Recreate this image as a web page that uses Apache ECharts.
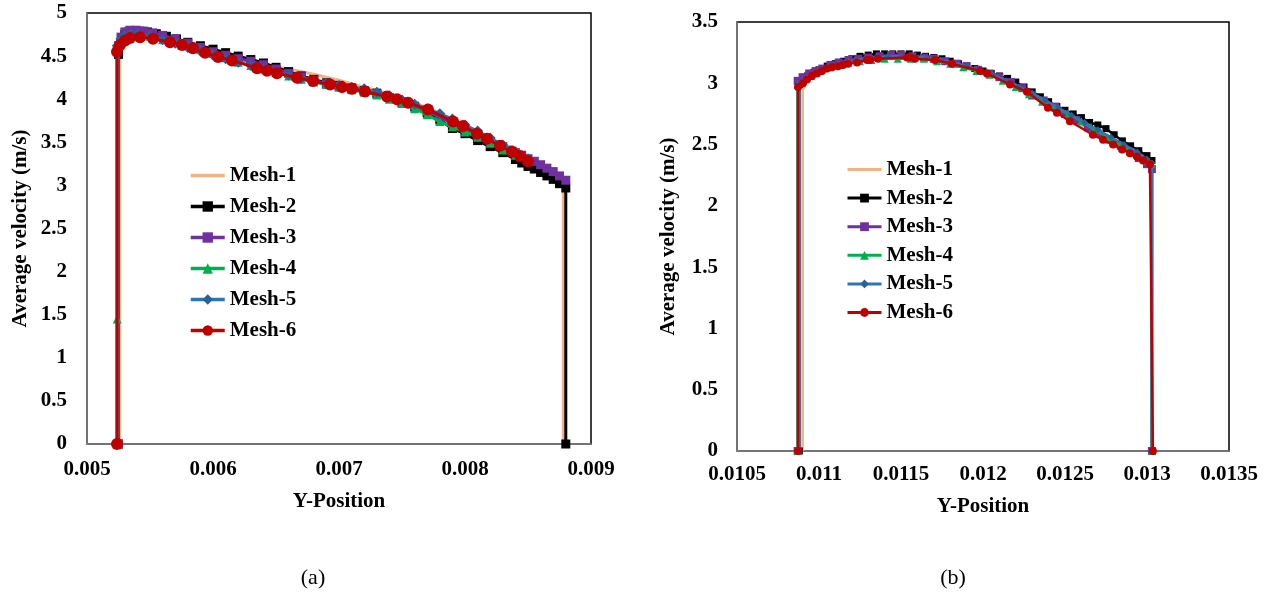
<!DOCTYPE html>
<html>
<head>
<meta charset="utf-8">
<title>Average velocity</title>
<script src="https://cdn.jsdelivr.net/npm/echarts@6/dist/echarts.min.js"></script>
<style>
  body { margin: 0; background: #fff; }
  #chart { width: 1274px; height: 599px; }
</style>
</head>
<body>
<div id="chart"></div>
<script>
// series names
var meshNames = ['Mesh-1', 'Mesh-2', 'Mesh-3', 'Mesh-4', 'Mesh-5', 'Mesh-6']

// tick settings
var leftXTicks = [0.005, 0.009, 0.001]
var leftYTicks = [0, 5, 0.5]
var rightXTicks = [0.0105, 0.0135, 0.0005]
var rightYTicks = [0, 3.5, 0.5]

// (a) left panel, [y-position, velocity]
var leftMesh1 = [[0.00526, 0], [0.00526, 4.6], [0.0053, 4.72], [0.00536, 4.76], [0.00545, 4.75], [0.0056, 4.71], [0.0058, 4.63], [0.006, 4.55], [0.0062, 4.47], [0.0064, 4.40], [0.0066, 4.35], [0.0068, 4.29], [0.007, 4.22], [0.0072, 4.14], [0.0074, 4.06], [0.0076, 3.96], [0.0078, 3.84], [0.008, 3.70], [0.0082, 3.55], [0.0084, 3.38], [0.0086, 3.20], [0.00875, 3.04], [0.00878, 3.0], [0.00878, 0]]
var leftMesh2 = [[0.00525, 0], [0.00525, 4.52], [0.00527, 4.66], [0.0053, 4.75], [0.00533, 4.78], [0.00537, 4.79], [0.00542, 4.79], [0.00548, 4.78], [0.00555, 4.76], [0.00563, 4.73], [0.00571, 4.70], [0.0058, 4.66], [0.0059, 4.62], [0.006, 4.58], [0.0061, 4.54], [0.0062, 4.50], [0.0063, 4.46], [0.0064, 4.42], [0.0065, 4.37], [0.0066, 4.32], [0.0067, 4.27], [0.0068, 4.23], [0.0069, 4.19], [0.007, 4.16], [0.0071, 4.13], [0.0072, 4.10], [0.0073, 4.07], [0.0074, 4.02], [0.0075, 3.96], [0.0076, 3.91], [0.0077, 3.84], [0.0078, 3.76], [0.0079, 3.66], [0.008, 3.60], [0.0081, 3.52], [0.0082, 3.45], [0.0083, 3.38], [0.0084, 3.30], [0.00845, 3.26], [0.0085, 3.22], [0.00855, 3.19], [0.0086, 3.15], [0.00865, 3.11], [0.0087, 3.07], [0.00875, 3.02], [0.0088, 2.97], [0.0088, 0]]
var leftMesh3 = [[0.00525, 0], [0.00525, 4.62], [0.00527, 4.72], [0.0053, 4.78], [0.00534, 4.80], [0.00539, 4.80], [0.00545, 4.79], [0.00552, 4.77], [0.0056, 4.74], [0.0057, 4.70], [0.0058, 4.65], [0.0059, 4.60], [0.006, 4.55], [0.0061, 4.51], [0.0062, 4.47], [0.0063, 4.44], [0.0064, 4.40], [0.0065, 4.35], [0.0066, 4.30], [0.0067, 4.26], [0.0068, 4.22], [0.0069, 4.18], [0.007, 4.15], [0.0071, 4.12], [0.0072, 4.09], [0.0073, 4.06], [0.0074, 4.02], [0.0075, 3.97], [0.0076, 3.92], [0.0077, 3.86], [0.0078, 3.79], [0.0079, 3.72], [0.008, 3.65], [0.0081, 3.58], [0.0082, 3.51], [0.0083, 3.45], [0.00835, 3.41], [0.0084, 3.38], [0.00845, 3.35], [0.0085, 3.31], [0.00855, 3.28], [0.0086, 3.24], [0.00865, 3.20], [0.0087, 3.16], [0.00875, 3.11], [0.0088, 3.06]]
var leftMesh4 = [[0.00524, 0], [0.00524, 1.45], [0.00524, 4.6], [0.00527, 4.68], [0.0053, 4.73], [0.00535, 4.76], [0.0054, 4.76], [0.0055, 4.73], [0.0056, 4.69], [0.0057, 4.66], [0.0058, 4.62], [0.0059, 4.58], [0.006, 4.53], [0.0061, 4.48], [0.0062, 4.43], [0.0063, 4.39], [0.0064, 4.35], [0.0065, 4.31], [0.0066, 4.27], [0.0067, 4.23], [0.0068, 4.20], [0.0069, 4.17], [0.007, 4.14], [0.0071, 4.11], [0.0072, 4.08], [0.0073, 4.05], [0.0074, 4.00], [0.0075, 3.95], [0.0076, 3.89], [0.0077, 3.82], [0.0078, 3.74], [0.0079, 3.68], [0.008, 3.62], [0.0081, 3.56], [0.0082, 3.49], [0.0083, 3.41], [0.0084, 3.35]]
var leftMesh5 = [[0.00524, 0], [0.00524, 4.62], [0.00527, 4.70], [0.0053, 4.74], [0.00535, 4.76], [0.0054, 4.76], [0.0055, 4.73], [0.0056, 4.69], [0.0057, 4.65], [0.0058, 4.60], [0.0059, 4.56], [0.006, 4.51], [0.0061, 4.47], [0.0062, 4.43], [0.0063, 4.39], [0.0064, 4.35], [0.0065, 4.31], [0.0066, 4.28], [0.0067, 4.24], [0.0068, 4.21], [0.0069, 4.18], [0.007, 4.16], [0.0071, 4.14], [0.0072, 4.12], [0.0073, 4.08], [0.0074, 4.04], [0.0075, 3.99], [0.0076, 3.94], [0.0077, 3.89], [0.0078, 3.83], [0.0079, 3.77], [0.008, 3.70], [0.0081, 3.63], [0.0082, 3.55], [0.0083, 3.47], [0.0084, 3.39], [0.0085, 3.31]]
var leftMesh6 = [[0.005238, 0], [0.005238, 4.55], [0.005262, 4.63], [0.005302, 4.68], [0.005341, 4.71], [0.005421, 4.72], [0.005524, 4.70], [0.005659, 4.66], [0.005754, 4.63], [0.005841, 4.59], [0.005937, 4.54], [0.00604, 4.49], [0.006151, 4.45], [0.006349, 4.36], [0.006429, 4.33], [0.006508, 4.30], [0.006667, 4.25], [0.006794, 4.21], [0.006929, 4.17], [0.007024, 4.14], [0.007103, 4.12], [0.007206, 4.09], [0.007381, 4.03], [0.00746, 4.00], [0.007548, 3.96], [0.007706, 3.88], [0.007905, 3.74], [0.007984, 3.69], [0.008095, 3.60], [0.008175, 3.54], [0.008278, 3.46], [0.008373, 3.39], [0.008437, 3.34], [0.0085, 3.28]]

// (b) right panel
var rightMesh1 = [[0.0109, 0], [0.0109, 2.95], [0.01093, 3.02], [0.011, 3.08], [0.0111, 3.14], [0.0112, 3.17], [0.0113, 3.19], [0.0114, 3.21], [0.0115, 3.22], [0.0116, 3.21], [0.0117, 3.20], [0.0118, 3.17], [0.0119, 3.13], [0.012, 3.09], [0.0121, 3.04], [0.0122, 2.98], [0.0123, 2.92], [0.0124, 2.83], [0.0125, 2.74], [0.0126, 2.66], [0.0127, 2.58], [0.0128, 2.51], [0.0129, 2.44], [0.013, 2.37], [0.01303, 2.34], [0.01303, 0]]
var rightMesh2 = [[0.01088, 0], [0.01088, 2.99], [0.0109, 3.03], [0.01093, 3.06], [0.01097, 3.09], [0.011, 3.11], [0.01105, 3.14], [0.0111, 3.16], [0.01115, 3.18], [0.0112, 3.20], [0.01125, 3.22], [0.0113, 3.23], [0.01135, 3.24], [0.0114, 3.24], [0.01145, 3.24], [0.0115, 3.24], [0.01155, 3.24], [0.0116, 3.23], [0.01165, 3.22], [0.0117, 3.21], [0.01175, 3.20], [0.0118, 3.18], [0.01185, 3.16], [0.0119, 3.14], [0.01195, 3.12], [0.012, 3.10], [0.01205, 3.08], [0.0121, 3.06], [0.01215, 3.04], [0.0122, 3.01], [0.01225, 2.97], [0.0123, 2.93], [0.01235, 2.89], [0.0124, 2.85], [0.01245, 2.81], [0.0125, 2.78], [0.01255, 2.75], [0.0126, 2.72], [0.01265, 2.68], [0.0127, 2.66], [0.01275, 2.63], [0.0128, 2.58], [0.01285, 2.53], [0.0129, 2.49], [0.01295, 2.45], [0.013, 2.41], [0.01303, 2.37], [0.01303, 0]]
var rightMesh3 = [[0.01087, 0], [0.01087, 3.02], [0.0109, 3.05], [0.01094, 3.08], [0.01098, 3.10], [0.01102, 3.12], [0.01107, 3.15], [0.01112, 3.17], [0.01118, 3.19], [0.01124, 3.20], [0.0113, 3.21], [0.01137, 3.22], [0.01144, 3.23], [0.0115, 3.23], [0.01157, 3.22], [0.01164, 3.21], [0.0117, 3.20], [0.01177, 3.18], [0.01184, 3.16], [0.0119, 3.14], [0.01197, 3.11], [0.01204, 3.08], [0.0121, 3.05], [0.01217, 3.01], [0.01224, 2.96], [0.0123, 2.90], [0.01237, 2.86], [0.01244, 2.81], [0.0125, 2.75], [0.01257, 2.70], [0.01264, 2.64], [0.0127, 2.59], [0.01277, 2.54], [0.01284, 2.49], [0.0129, 2.44], [0.01295, 2.39], [0.013, 2.34], [0.01303, 2.30], [0.01303, 0]]
var rightMesh4 = [[0.01087, 0], [0.01087, 2.99], [0.0109, 3.02], [0.01095, 3.06], [0.011, 3.10], [0.01106, 3.13], [0.01112, 3.15], [0.01118, 3.17], [0.01125, 3.18], [0.01132, 3.19], [0.0114, 3.20], [0.01148, 3.20], [0.01156, 3.20], [0.01164, 3.20], [0.01172, 3.18], [0.0118, 3.16], [0.01188, 3.13], [0.01196, 3.10], [0.01204, 3.07], [0.01212, 3.02], [0.0122, 2.97], [0.01228, 2.91], [0.01236, 2.85], [0.01244, 2.80], [0.01252, 2.75], [0.0126, 2.69], [0.01268, 2.62], [0.01276, 2.56], [0.01284, 2.50], [0.01292, 2.43], [0.013, 2.37], [0.01303, 2.34], [0.01303, 0]]
var rightMesh5 = [[0.01088, 0], [0.01088, 3.0], [0.01091, 3.04], [0.01095, 3.07], [0.011, 3.10], [0.01105, 3.13], [0.0111, 3.15], [0.01116, 3.17], [0.01122, 3.19], [0.01128, 3.20], [0.01135, 3.21], [0.01142, 3.22], [0.0115, 3.22], [0.01158, 3.22], [0.01166, 3.21], [0.01174, 3.19], [0.01182, 3.17], [0.0119, 3.14], [0.01198, 3.10], [0.01206, 3.07], [0.01214, 3.02], [0.01222, 2.97], [0.0123, 2.92], [0.01238, 2.86], [0.01246, 2.80], [0.01254, 2.74], [0.01262, 2.68], [0.0127, 2.62], [0.01278, 2.56], [0.01286, 2.50], [0.01294, 2.44], [0.013, 2.38], [0.01303, 2.35], [0.01303, 0]]
var rightMesh6 = [[0.010872, 0], [0.010872, 2.97], [0.010902, 3.00], [0.010927, 3.03], [0.010957, 3.06], [0.010988, 3.08], [0.011018, 3.10], [0.011049, 3.12], [0.011079, 3.13], [0.011116, 3.14], [0.011146, 3.15], [0.011177, 3.16], [0.011232, 3.17], [0.011293, 3.19], [0.011311, 3.19], [0.01136, 3.20], [0.011537, 3.21], [0.011555, 3.21], [0.011585, 3.20], [0.011707, 3.19], [0.01181, 3.16], [0.011982, 3.10], [0.012024, 3.08], [0.012165, 2.99], [0.012268, 2.93], [0.012396, 2.80], [0.012451, 2.76], [0.01253, 2.69], [0.01267, 2.58], [0.012732, 2.54], [0.012793, 2.50], [0.012848, 2.46], [0.012896, 2.43], [0.012939, 2.40], [0.012976, 2.37], [0.013018, 2.34], [0.013036, 0]]

var leftData = [leftMesh1, leftMesh2, leftMesh3, leftMesh4, leftMesh5, leftMesh6]
var rightData = [rightMesh1, rightMesh2, rightMesh3, rightMesh4, rightMesh5, rightMesh6]

var lineColors = ['#F4B183', '#000000', '#7030A0', '#00B050', '#2E75B6', '#C00000']
var markColors = ['#F4B183', '#000000', '#7030A0', '#00B050', '#2A6199', '#C00000']
var symbols = ['none', 'rect', 'rect', 'triangle', 'diamond', 'circle']
var leftSizes = [0, 9, 9, 9, 11, 12]
var rightSizes = [0, 7, 8, 8, 7, 8]

var font = 'Liberation Serif'
var labelStyle = { fontFamily: font, fontWeight: 'bold', fontSize: 21, color: '#000' }

function makeSeries (data, sizes, axis, width) {
  return data.map(function (d, i) {
    return {
      name: meshNames[i],
      type: 'line',
      xAxisIndex: axis,
      yAxisIndex: axis,
      data: d,
      symbol: symbols[i],
      symbolSize: sizes[i],
      lineStyle: { color: lineColors[i], width: width },
      itemStyle: { color: markColors[i] },
      emphasis: { disabled: true },
      z: 2 + i
    }
  })
}

// Mesh-1 has no marker, so hide the legend symbol for it
function legendItems () {
  return meshNames.map(function (n, i) {
    return i === 0 ? { name: n, itemStyle: { opacity: 0 } } : { name: n }
  })
}

function xAxisOf (ticks, idx, gap, margin) {
  return {
    type: 'value', gridIndex: idx, min: ticks[0], max: ticks[1], interval: ticks[2],
    name: 'Y-Position', nameLocation: 'middle', nameGap: gap,
    nameTextStyle: { fontFamily: font, fontWeight: 'bold', fontSize: 21, color: '#000' },
    axisLine: { lineStyle: { color: '#868686', width: 1.5 } },
    axisTick: { show: false },
    splitLine: { show: false },
    axisLabel: Object.assign({ margin: margin }, labelStyle)
  }
}

function yAxisOf (ticks, idx, gap, margin) {
  return {
    type: 'value', gridIndex: idx, min: ticks[0], max: ticks[1], interval: ticks[2],
    name: 'Average velocity (m/s)', nameLocation: 'middle', nameRotate: 90, nameGap: gap,
    nameTextStyle: { fontFamily: font, fontWeight: 'bold', fontSize: 21, color: '#000' },
    axisLine: { show: true, lineStyle: { color: '#868686', width: 1.5 } },
    axisTick: { show: false },
    splitLine: { show: false },
    axisLabel: Object.assign({ margin: margin }, labelStyle)
  }
}

var chart = echarts.init(document.getElementById('chart'))
var option = {
  animation: false,
  backgroundColor: '#fff',
  grid: [
    { left: 87, top: 13, width: 504, height: 431, show: true, borderColor: '#000', borderWidth: 1.5 },
    { left: 737, top: 22, width: 492, height: 429, show: true, borderColor: '#000', borderWidth: 1.5 }
  ],
  xAxis: [xAxisOf(leftXTicks, 0, 47, 15), xAxisOf(rightXTicks, 1, 45, 13)],
  yAxis: [yAxisOf(leftYTicks, 0, 56, 20), yAxisOf(rightYTicks, 1, 58, 19)],
  legend: [
    {
      data: legendItems(), orient: 'vertical', left: 189, top: 165, padding: 0,
      itemWidth: 34, itemHeight: 13, itemGap: 10, selectedMode: false,
      lineStyle: { width: 3.5 },
      textStyle: { fontFamily: font, fontWeight: 'bold', fontSize: 21, color: '#000', lineHeight: 21 }
    },
    {
      data: legendItems(), orient: 'vertical', left: 846, top: 159, padding: 0,
      itemWidth: 34, itemHeight: 11, itemGap: 7.6, selectedMode: false,
      lineStyle: { width: 3 },
      textStyle: { fontFamily: font, fontWeight: 'bold', fontSize: 21, color: '#000', lineHeight: 21 }
    }
  ],
  graphic: [
    { type: 'text', x: 313, y: 578, style: { text: '(a)', font: '22px "Liberation Serif"', fill: '#000', textAlign: 'center', textVerticalAlign: 'middle' } },
    { type: 'text', x: 953, y: 578, style: { text: '(b)', font: '22px "Liberation Serif"', fill: '#000', textAlign: 'center', textVerticalAlign: 'middle' } }
  ],
  series: makeSeries(leftData, leftSizes, 0, 3).concat(makeSeries(rightData, rightSizes, 1, 2.5))
}
chart.setOption(option)
</script>
</body>
</html>
